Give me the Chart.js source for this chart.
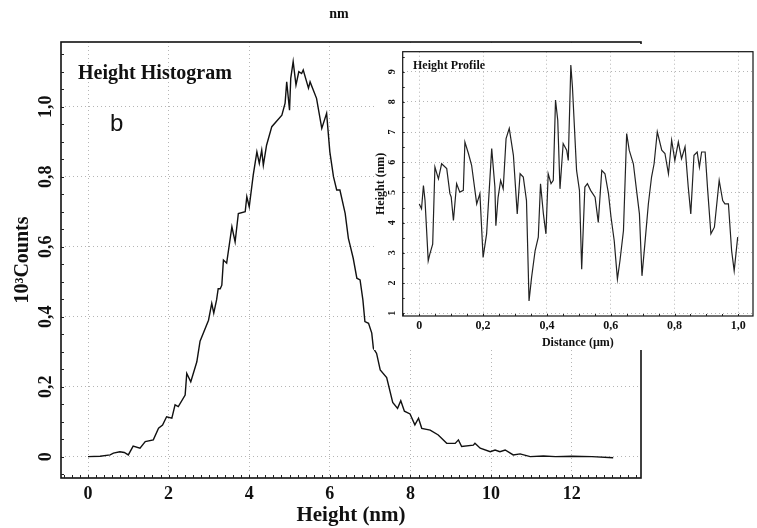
<!DOCTYPE html>
<html>
<head>
<meta charset="utf-8">
<script src="https://cdn.jsdelivr.net/npm/chart.js@4.4.0/dist/chart.umd.min.js"></script>
<style>
	body { margin: 0; background: #fff; }
	#wrap { position: relative; width: 757px; height: 528px; }
	#mainChart { position: absolute; left: 0; top: 0; }
	#insetChart { position: absolute; left: 374px; top: 44px; background: #fff; }
</style>
</head>
<body>
<div id="wrap">
	<canvas id="mainChart" width="757" height="528"></canvas>
	<canvas id="insetChart" width="383" height="306"></canvas>
</div>
<script>
'use strict';

// height histogram (x = height in nm, y = 10^3 counts)
var histHeight = [0, 0.3, 0.55, 0.63, 0.79, 0.9, 1.0, 1.12, 1.29, 1.42, 1.62, 1.75, 1.85, 1.95, 2.08, 2.16, 2.24, 2.41, 2.45, 2.55,
	2.70, 2.78, 2.99, 3.07, 3.12, 3.19, 3.23, 3.28, 3.32, 3.36, 3.44, 3.57, 3.65, 3.73, 3.90, 3.94, 4.0, 4.10, 4.19, 4.25,
	4.31, 4.35, 4.43, 4.56, 4.81, 4.89, 4.93, 5.0, 5.03, 5.09, 5.16, 5.23, 5.30, 5.34, 5.47, 5.51, 5.67, 5.80, 5.92, 6.0,
	6.09, 6.17, 6.25, 6.38, 6.46, 6.50, 6.58, 6.67, 6.75, 6.82, 6.87, 6.96, 7.04, 7.08, 7.16, 7.25, 7.41, 7.56, 7.68, 7.76,
	7.85, 7.99, 8.11, 8.2, 8.28, 8.49, 8.69, 8.90, 9.11, 9.19, 9.27, 9.56, 9.60, 9.73, 9.98, 10.1, 10.22, 10.35, 10.55, 10.72,
	10.97, 11.3, 11.6, 12.0, 12.5, 13.03];
var histCounts = [0, 0.001, 0.005, 0.01, 0.014, 0.012, 0.005, 0.03, 0.024, 0.043, 0.048, 0.081, 0.09, 0.114, 0.11, 0.148, 0.143, 0.176, 0.238, 0.214,
	0.271, 0.33, 0.39, 0.438, 0.41, 0.448, 0.48, 0.48, 0.49, 0.562, 0.553, 0.657, 0.614, 0.695, 0.70, 0.743, 0.714, 0.805, 0.871, 0.838,
	0.876, 0.833, 0.89, 0.943, 0.976, 1.01, 1.071, 0.99, 1.081, 1.129, 1.062, 1.10, 1.095, 1.105, 1.053, 1.071, 1.024, 0.938, 0.981, 0.871,
	0.80, 0.762, 0.762, 0.695, 0.624, 0.605, 0.567, 0.51, 0.505, 0.448, 0.386, 0.381, 0.353, 0.31, 0.295, 0.248, 0.226, 0.155, 0.138, 0.16,
	0.13, 0.122, 0.091, 0.11, 0.081, 0.076, 0.062, 0.038, 0.038, 0.048, 0.029, 0.033, 0.038, 0.024, 0.014, 0.019, 0.014, 0.019, 0.005, 0.008,
	0.0, 0.002, 0.0, 0.001, 0.0, -0.003];
var histXTicks = [0, 2, 4, 6, 8, 10, 12];

// height profile inset (x = distance in um, y = height in nm)
var profDist = [0, 0.007, 0.013, 0.018, 0.028, 0.033, 0.042, 0.049, 0.06, 0.07, 0.086, 0.096, 0.10, 0.107, 0.117, 0.127, 0.138, 0.143, 0.154, 0.164,
	0.18, 0.19, 0.20, 0.211, 0.227, 0.237, 0.24, 0.247, 0.255, 0.263, 0.272, 0.282, 0.295, 0.307, 0.316, 0.326, 0.336, 0.344, 0.352, 0.363,
	0.373, 0.38, 0.389, 0.397, 0.404, 0.413, 0.42, 0.427, 0.434, 0.441, 0.451, 0.462, 0.467, 0.475, 0.48, 0.493, 0.502, 0.509, 0.519, 0.527,
	0.537, 0.551, 0.561, 0.572, 0.582, 0.593, 0.601, 0.611, 0.621, 0.629, 0.64, 0.65, 0.658, 0.671, 0.681, 0.69, 0.698, 0.707, 0.718, 0.728,
	0.736, 0.746, 0.76, 0.77, 0.781, 0.791, 0.801, 0.812, 0.822, 0.833, 0.843, 0.851, 0.861, 0.871, 0.878, 0.885, 0.896, 0.904, 0.914, 0.925,
	0.94, 0.951, 0.958, 0.969, 0.979, 0.987, 0.998];
var profHeight = [4.62, 4.46, 5.23, 4.73, 2.74, 2.96, 3.29, 5.84, 5.45, 5.95, 5.79, 4.96, 4.85, 4.07, 5.29, 5.01, 5.07, 6.67, 6.29, 5.90,
	4.62, 4.96, 2.85, 3.63, 6.45, 5.18, 3.90, 4.84, 5.40, 5.12, 6.78, 7.12, 6.23, 4.29, 5.62, 5.51, 4.73, 1.41, 2.19, 3.07,
	3.52, 5.29, 4.29, 3.63, 5.62, 5.29, 5.40, 8.06, 7.39, 5.12, 6.62, 6.40, 6.06, 9.22, 8.50, 5.73, 5.07, 2.46, 5.18, 5.29,
	5.07, 4.84, 4.01, 5.73, 5.62, 4.96, 4.18, 3.40, 2.13, 2.74, 3.74, 6.95, 6.40, 5.95, 5.07, 4.29, 2.24, 3.29, 4.62, 5.51,
	5.95, 7.01, 6.40, 6.29, 5.62, 6.73, 6.06, 6.67, 6.12, 6.51, 5.18, 4.29, 6.23, 6.34, 5.84, 6.34, 6.34, 5.07, 3.63, 3.85,
	5.40, 4.73, 4.62, 4.62, 3.07, 2.41, 3.52];
var profXTicks = [0, 0.2, 0.4, 0.6, 0.8, 1.0];
var profYTicks = [1, 2, 3, 4, 5, 6, 7, 8, 9];

var serif = "'Liberation Serif', 'Times New Roman', serif";

function toPoints(xs, ys) {
	return xs.map(function (x, i) { return { x: x, y: ys[i] }; });
}

function commaLabel(v) {
	if (Math.abs(v) < 1e-9) return '0';
	return v.toFixed(1).replace('.', ',');
}

// fixed axis box sizes, no extra label overhang padding
function fixWidth(w) {
	return function (s) { s.width = w; s.paddingTop = 0; s.paddingBottom = 0; };
}
function fixHeight(h) {
	return function (s) { s.height = h; s.paddingLeft = 0; s.paddingRight = 0; };
}

// closed frame round the plot area
var frameBox = {
	id: 'frameBox',
	afterDraw: function (chart, args, opts) {
		var a = chart.chartArea, ctx = chart.ctx;
		ctx.save();
		ctx.strokeStyle = '#111';
		ctx.lineWidth = opts.width || 1;
		ctx.strokeRect(a.left, a.top, a.right - a.left, a.bottom - a.top);
		ctx.restore();
	}
};

// small inward minor ticks along the bottom and left axes
var minorTicks = {
	id: 'minorTicks',
	afterDraw: function (chart, args, opts) {
		if (!opts.xStep) return;
		var a = chart.chartArea, ctx = chart.ctx;
		var xs = chart.scales.x, ys = chart.scales.y;
		ctx.save();
		ctx.strokeStyle = '#222';
		ctx.lineWidth = 1;
		ctx.beginPath();
		var v, p;
		for (v = Math.ceil(xs.min / opts.xStep) * opts.xStep; v <= xs.max; v += opts.xStep) {
			p = Math.round(xs.getPixelForValue(v)) + 0.5;
			ctx.moveTo(p, a.bottom);
			ctx.lineTo(p, a.bottom - opts.len);
		}
		for (v = Math.ceil(ys.min / opts.yStep) * opts.yStep; v <= ys.max; v += opts.yStep) {
			p = Math.round(ys.getPixelForValue(v)) + 0.5;
			ctx.moveTo(a.left, p);
			ctx.lineTo(a.left + opts.len, p);
		}
		ctx.stroke();
		ctx.restore();
	}
};

// free text labels drawn on the canvas
var freeText = {
	id: 'freeText',
	afterDraw: function (chart, args, opts) {
		var ctx = chart.ctx;
		(opts.items || []).forEach(function (t) {
			ctx.save();
			ctx.font = t.font;
			ctx.fillStyle = '#111';
			ctx.textAlign = t.align || 'left';
			ctx.textBaseline = 'alphabetic';
			ctx.fillText(t.text, t.x, t.y);
			ctx.restore();
		});
	}
};

var mainCtx = document.getElementById('mainChart').getContext('2d');
var mainChart = new Chart(mainCtx, {
	type: 'line',
	data: {
		datasets: [{
			data: toPoints(histHeight, histCounts),
			borderColor: '#111',
			borderWidth: 1.4,
			pointRadius: 0,
			tension: 0,
			fill: false
		}]
	},
	options: {
		responsive: false,
		animation: false,
		devicePixelRatio: 1,
		layout: { padding: { left: 0, top: 42, right: 116, bottom: 0 } },
		plugins: {
			legend: { display: false },
			tooltip: { enabled: false },
			frameBox: { width: 1.6 },
			minorTicks: { xStep: 0.2, yStep: 0.05, len: 3 },
			freeText: {
				items: [
					{ text: 'nm', x: 339, y: 18, font: 'bold 14px ' + serif, align: 'center' },
					{ text: 'Height Histogram', x: 78, y: 79, font: 'bold 20px ' + serif },
					{ text: 'b', x: 110, y: 131, font: '24px "Liberation Sans", Arial, sans-serif' }
				]
			}
		},
		scales: {
			x: {
				type: 'linear',
				min: -0.67,
				max: 13.72,
				afterFit: fixHeight(50),
				afterBuildTicks: function (s) { s.ticks = histXTicks.map(function (v) { return { value: v }; }); },
				ticks: {
					autoSkip: false,
					maxRotation: 0,
					padding: 6,
					color: '#111',
					font: { family: serif, size: 18, weight: 'bold' },
					callback: function (v) { return String(v); }
				},
				grid: { color: '#b5b5b5', lineWidth: 1, drawTicks: false },
				border: { display: false, dash: [1, 3] },
				title: {
					display: true,
					text: 'Height (nm)',
					color: '#111',
					padding: { top: 0, bottom: 0 },
					font: { family: serif, size: 21, weight: 'bold' }
				}
			},
			y: {
				type: 'linear',
				min: -0.061,
				max: 1.185,
				afterFit: fixWidth(61),
				ticks: {
					stepSize: 0.2,
					includeBounds: false,
					autoSkip: false,
					minRotation: 90,
					maxRotation: 90,
					crossAlign: 'center',
					padding: 3,
					color: '#111',
					font: { family: serif, size: 18, weight: 'bold' },
					callback: commaLabel
				},
				grid: { color: '#b5b5b5', lineWidth: 1, drawTicks: false },
				border: { display: false, dash: [1, 3] },
				title: {
					display: true,
					text: '10³Counts',
					color: '#111',
					padding: { top: 11, bottom: 0 },
					font: { family: serif, size: 20, weight: 'bold' }
				}
			}
		}
	},
	plugins: [frameBox, minorTicks, freeText]
});

var insetCtx = document.getElementById('insetChart').getContext('2d');
var insetChart = new Chart(insetCtx, {
	type: 'line',
	data: {
		datasets: [{
			data: toPoints(profDist, profHeight),
			borderColor: '#222',
			borderWidth: 1.2,
			pointRadius: 0,
			tension: 0,
			fill: false
		}]
	},
	options: {
		responsive: false,
		animation: false,
		devicePixelRatio: 1,
		layout: { padding: { left: 0, top: 7.7, right: 4, bottom: 0 } },
		plugins: {
			legend: { display: false },
			tooltip: { enabled: false },
			frameBox: { width: 1.2 },
			minorTicks: { xStep: 0.05, yStep: 0.5, len: 2 },
			freeText: {
				items: [
					{ text: 'Height Profile', x: 39, y: 25, font: 'bold 12px ' + serif }
				]
			}
		},
		scales: {
			x: {
				type: 'linear',
				min: -0.052,
				max: 1.046,
				afterFit: fixHeight(34),
				afterBuildTicks: function (s) { s.ticks = profXTicks.map(function (v) { return { value: v }; }); },
				ticks: {
					autoSkip: false,
					maxRotation: 0,
					padding: 3,
					color: '#111',
					font: { family: serif, size: 12, weight: 'bold' },
					callback: commaLabel
				},
				grid: { color: '#b5b5b5', lineWidth: 1, drawTicks: false },
				border: { display: false, dash: [1, 3] },
				title: {
					display: true,
					text: 'Distance (µm)',
					color: '#111',
					padding: { top: 0, bottom: 0 },
					font: { family: serif, size: 12, weight: 'bold' }
				}
			},
			y: {
				type: 'linear',
				min: 0.91,
				max: 9.66,
				afterFit: fixWidth(28.7),
				afterBuildTicks: function (s) { s.ticks = profYTicks.map(function (v) { return { value: v }; }); },
				ticks: {
					autoSkip: false,
					minRotation: 90,
					maxRotation: 90,
					crossAlign: 'center',
					padding: 8,
					color: '#111',
					font: { family: serif, size: 10, weight: 'bold' },
					callback: function (v) { return String(v); }
				},
				grid: { color: '#b5b5b5', lineWidth: 1, drawTicks: false },
				border: { display: false, dash: [1, 3] },
				title: {
					display: true,
					text: 'Height (nm)',
					color: '#111',
					padding: { top: 0, bottom: 0 },
					font: { family: serif, size: 12, weight: 'bold' }
				}
			}
		}
	},
	plugins: [frameBox, minorTicks, freeText]
});
</script>
</body>
</html>
